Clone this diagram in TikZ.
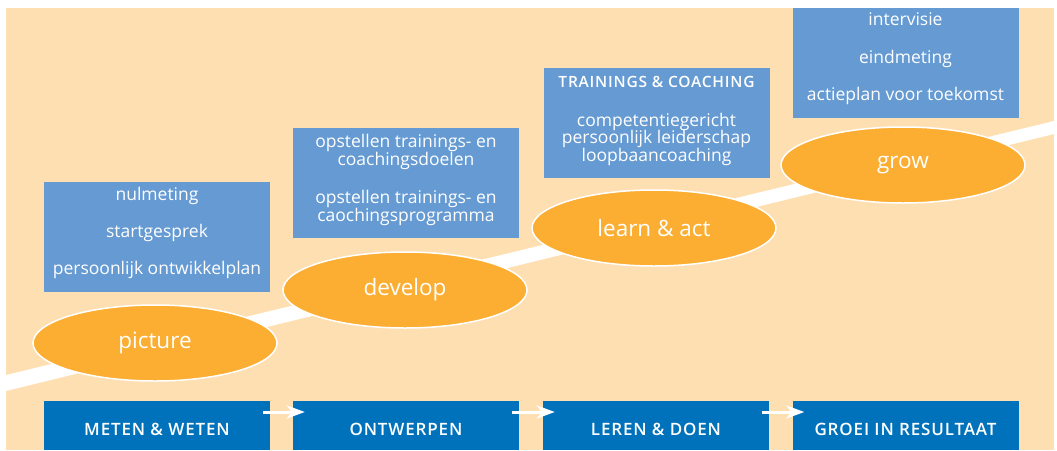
\documentclass[tikz,border=0pt]{standalone}
\usepackage{fontspec}
\setmainfont{Open Sans}
\IfFontExistsTF{Open Sans SemiBold}
  {\newfontfamily\capsfont[LetterSpace=5]{Open Sans SemiBold}}
  {\IfFontExistsTF{Open Sans Semibold}
    {\newfontfamily\capsfont[LetterSpace=5]{Open Sans Semibold}}
    {\newfontfamily\capsfont[LetterSpace=5,FakeBold=1.2]{Open Sans}}}
\usetikzlibrary{shapes.geometric,arrows.meta,calc}
\definecolor{peach}{HTML}{FEDFB2}
\definecolor{lblue}{HTML}{659AD2}
\definecolor{dblue}{HTML}{0071BB}
\definecolor{orng}{HTML}{FBAE32}
\tikzset{
  lbox/.style={rectangle, fill=lblue, inner sep=0pt, minimum width=226pt, minimum height=110pt},
  dbox/.style={rectangle, fill=dblue, inner sep=0pt, minimum width=226pt, minimum height=49pt},
  btext/.style={text=white, align=center, inner sep=0pt, font=\fontsize{17.5}{18}\selectfont},
  ctext/.style={text=white, inner sep=0pt, font=\capsfont\fontsize{17}{18}\selectfont},
  oval/.style={ellipse, fill=orng, draw=white, line width=1.5pt, minimum width=244pt, minimum height=76pt, inner sep=0pt, text=white, font=\fontsize{22.5}{24}\selectfont},
  arr/.style={draw=white, line width=3pt, -{Stealth[length=18pt,width=13pt,inset=5pt]}}
}
\begin{document}
\begin{tikzpicture}[x=1pt,y=-1pt]
\useasboundingbox (0,0) rectangle (1057,450);
\fill[peach] (6,8) rectangle (1054,450);
% white road
\fill[white] (6,375) -- (1054,121) -- (1054,134) -- (6,391) -- cycle;
% upper boxes
\node[lbox] (b1) at (157,237) {};
\node[lbox] (b2) at (406,183) {};
\node[lbox] (b3) at (656.5,123) {};
\node[lbox] (b4) at (905.5,63) {};
\node[btext] (t1) at (157,233) {nulmeting\\[19pt]startgesprek\\[19pt]persoonlijk ontwikkelplan};
\node[btext] (t2) at (406,180) {opstellen trainings- en\\coachingsdoelen\\[20pt]opstellen trainings- en\\caochingsprogramma};
\node[btext] (t3) at (656.5,120.5) {{\capsfont\fontsize{15.5}{18}\selectfont TRAININGS \& COACHING}\\[21pt]competentiegericht\\[-0.5pt]persoonlijk leiderschap\\[-0.5pt]loopbaancoaching};
\node[btext] (t4) at (905.5,59) {intervisie\\[19.5pt]eindmeting\\[19.5pt]actieplan voor toekomst};
% ellipses
\node[oval] (e1) at (155,343) {picture};
\node[oval] (e2) at (405,290) {develop};
\node[oval] (e3) at (654,228) {learn \& act};
\node[oval] (e4) at (903,165) {grow};
% bottom boxes
\node[dbox] (m1) at (157,425.5) {};
\node[dbox] (m2) at (406,425.5) {};
\node[dbox] (m3) at (656,425.5) {};
\node[dbox] (m4) at (905.5,425.5) {};
\node[ctext] (l1) at (157,429) {METEN \& WETEN};
\node[ctext] (l2) at (406,429) {ONTWERPEN};
\node[ctext] (l3) at (656,429) {LEREN \& DOEN};
\node[ctext] (l4) at (905.5,429) {GROEI IN RESULTAAT};
% arrows
\draw[arr] ($(m1.east)+(-7,-13.5)$) -- ($(m2.west)+(12,-13.5)$);
\draw[arr] ($(m2.east)+(-7,-13.5)$) -- ($(m3.west)+(12,-13.5)$);
\draw[arr] ($(m3.east)+(-7,-13.5)$) -- ($(m4.west)+(12,-13.5)$);
\end{tikzpicture}
\end{document}
